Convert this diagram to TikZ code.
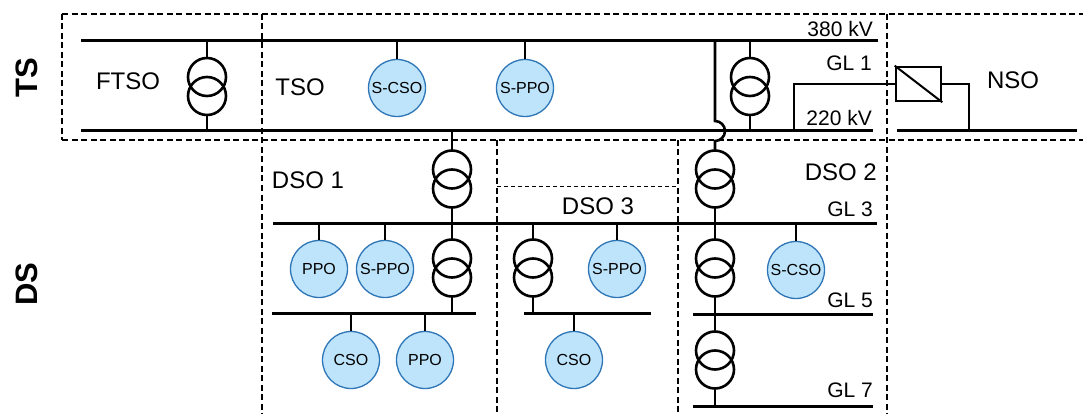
\documentclass[tikz,border=0pt]{standalone}
\usepackage{fontspec}
\setmainfont{Liberation Sans}
\definecolor{ufill}{HTML}{BDE4FA}
\definecolor{uline}{HTML}{2E75B6}
\begin{document}
\begin{tikzpicture}[x=1pt,y=-1pt,
 bus/.style={line width=3pt},
 wire/.style={line width=2.6pt},
 area/.style={dash pattern=on 6pt off 3.5pt, line width=1.2pt},
 subarea/.style={dash pattern=on 4pt off 3pt, line width=0.9pt},
 unit/.style={circle, draw=uline, fill=ufill, line width=1.3pt, minimum size=57pt, inner sep=0pt, font=\fontsize{16}{16}\selectfont},
 lbl/.style={font=\fontsize{21}{21}\selectfont, anchor=east, inner sep=0pt},
 op/.style={font=\fontsize{24}{24}\selectfont, inner sep=0pt},
 lvl/.style={font=\bfseries\fontsize{31}{31}\selectfont, rotate=90, inner sep=0pt},
 xfmr/.pic={\draw[wire] (0,-9.5) circle[radius=19]; \draw[wire] (0,9.5) circle[radius=19];
   \coordinate (-top) at (0,-28.5); \coordinate (-bot) at (0,28.5);}
]
\useasboundingbox (0,0) rectangle (1083,414);

% dashed areas
\draw[area] (62,14) -- (1083,14);
\draw[area] (62,140) -- (1083,140);
\draw[area] (62,14) -- (62,140);
\draw[area] (262,14) -- (262,414);
\draw[area] (887,14) -- (887,414);
\draw[area] (497,140) -- (497,414);
\draw[area] (678,140) -- (678,414);
\draw[subarea] (497,186) -- (678,186);

% level labels
\node[lvl] (ts) at (27,78) {TS};
\node[lvl] (ds) at (27,284) {DS};

% buses
\coordinate (a380w) at (81,41);  \coordinate (a380e) at (878,41);
\coordinate (a220w) at (81,131); \coordinate (a220e) at (873,131);
\coordinate (nsow) at (897,131); \coordinate (nsoe) at (1077,131);
\coordinate (g3w) at (273,223);  \coordinate (g3e) at (877,223);
\coordinate (d1w) at (272,313);  \coordinate (d1e) at (476,313);
\coordinate (d3w) at (524,313);  \coordinate (d3e) at (651,313);
\coordinate (g5w) at (693,314);  \coordinate (g5e) at (873,314);
\coordinate (g7w) at (693,406);  \coordinate (g7e) at (873,406);
\draw[bus] (a380w) -- (a380e);
\draw[bus] (a220w) -- (a220e);
\draw[bus] (nsow) -- (nsoe);
\draw[bus] (g3w) -- (g3e);
\draw[bus] (d1w) -- (d1e);
\draw[bus] (d3w) -- (d3e);
\draw[bus] (g5w) -- (g5e);
\draw[bus] (g7w) -- (g7e);

% transformers
\pic (t1) at (207,86.5) {xfmr};
\pic (t2) at (750,86.5) {xfmr};
\pic (t3) at (452,179) {xfmr};
\pic (t4) at (452,268) {xfmr};
\pic (t5) at (533,268) {xfmr};
\pic (t6) at (715,179) {xfmr};
\pic (t7) at (715,268) {xfmr};
\pic (t8) at (715,360) {xfmr};

\draw[wire] (t1-top |- a380w) -- (t1-top);
\draw[wire] (t1-bot) -- (t1-bot |- a220w);
\draw[wire] (t2-top |- a380w) -- (t2-top);
\draw[wire] (t2-bot) -- (t2-bot |- a220w);
\draw[wire] (t3-top |- a220w) -- (t3-top);
\draw[wire] (t3-bot) -- (t3-bot |- g3w);
\draw[wire] (t4-top |- g3w) -- (t4-top);
\draw[wire] (t4-bot) -- (t4-bot |- d1w);
\draw[wire] (t5-top |- g3w) -- (t5-top);
\draw[wire] (t5-bot) -- (t5-bot |- d3w);
\draw[wire] (t6-bot) -- (t6-bot |- g3w);
\draw[wire] (t7-top |- g3w) -- (t7-top);
\draw[wire] (t7-bot) -- (t7-bot |- g5w);
\draw[wire] (t8-top |- g5w) -- (t8-top);
\draw[wire] (t8-bot) -- (t8-bot |- g7w);

% line with hop over the 220 kV bus
\coordinate (hop) at (715,121);
\draw[wire] (t6-top |- a380w) -- (hop) arc[start angle=-90, end angle=90, radius=10] -- (t6-top);

% converter to NSO
\node[draw, line width=2.6pt, minimum width=45pt, minimum height=34pt, inner sep=0pt] (conv) at (918.5,84) {};
\draw[line width=2pt] (conv.north west) -- (conv.south east);
\coordinate (gl1tap) at (794,131);
\coordinate (nsotap) at (969,131);
\draw[wire] (gl1tap) |- (conv.west);
\draw[wire] (conv.east) -| (nsotap);

% units
\node[unit] (scso1) at (397,88) {S-CSO};
\node[unit] (sppo1) at (525,88) {S-PPO};
\node[unit] (ppo1) at (319,269) {PPO};
\node[unit] (sppo2) at (385,269) {S-PPO};
\node[unit] (cso1) at (351,360) {CSO};
\node[unit] (ppo2) at (425,360) {PPO};
\node[unit] (sppo3) at (617,269) {S-PPO};
\node[unit] (cso2) at (574,360) {CSO};
\node[unit] (scso2) at (796,270) {S-CSO};
\draw[wire] (scso1.north |- a380w) -- (scso1.north);
\draw[wire] (sppo1.north |- a380w) -- (sppo1.north);
\draw[wire] (ppo1.north |- g3w) -- (ppo1.north);
\draw[wire] (sppo2.north |- g3w) -- (sppo2.north);
\draw[wire] (sppo3.north |- g3w) -- (sppo3.north);
\draw[wire] (scso2.north |- g3w) -- (scso2.north);
\draw[wire] (cso1.north |- d1w) -- (cso1.north);
\draw[wire] (ppo2.north |- d1w) -- (ppo2.north);
\draw[wire] (cso2.north |- d3w) -- (cso2.north);

% operator labels
\node[op] (ftso) at (128,81) {FTSO};
\node[op] (tso) at (300,87) {TSO};
\node[op] (nso) at (1013,80) {NSO};
\node[op] (dso1) at (308,180) {DSO 1};
\node[op] (dso3) at (598,206) {DSO 3};
\node[op, anchor=east] (dso2) at (877,172) {DSO 2};

% level labels
\node[lbl] (l380) at (873,29) {380 kV};
\node[lbl] (lgl1) at (872,63) {GL 1};
\node[lbl] (l220) at (872,118) {220 kV};
\node[lbl] (lgl3) at (873,209) {GL 3};
\node[lbl] (lgl5) at (873,300) {GL 5};
\node[lbl] (lgl7) at (873,390) {GL 7};
\end{tikzpicture}
\end{document}
